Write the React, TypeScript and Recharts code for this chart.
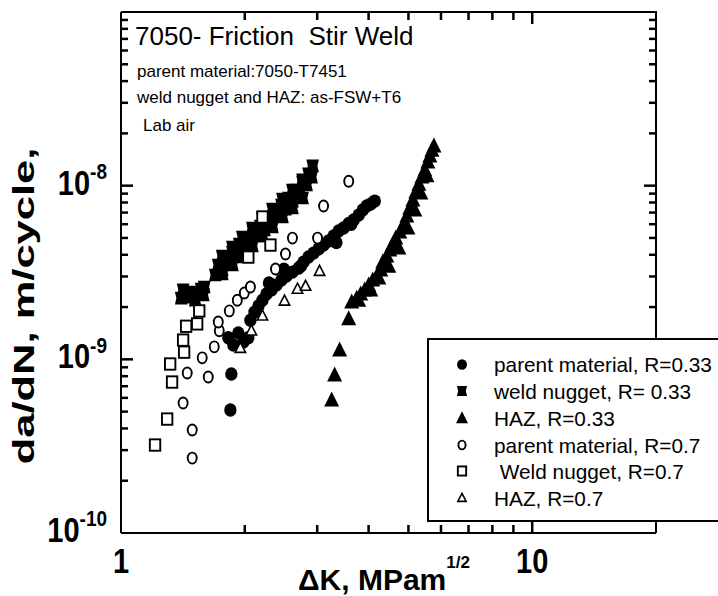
import React from "react";
import { Scatter, ScatterChart, XAxis, YAxis } from "recharts";

const FONT = '"Liberation Sans", Arial, Helvetica, sans-serif';
const INK = "#000";

// plot frame in page pixels (chart is pinned at 0,0)
const PLOT = { left: 121, right: 656, top: 12, bottom: 533 };

// axes
const X_DOMAIN = [1, 20];
const X_TICKS = [1, 2, 3, 4, 5, 6, 7, 8, 9, 10, 20];
const X_LABELS: Record<number, string> = { 1: "1", 10: "10" };
const Y_DOMAIN = [1e-10, 1e-7];
const Y_DECADES = [1e-10, 1e-9, 1e-8, 1e-7];
const Y_MINOR = [2, 3, 4, 5, 6, 7, 8, 9];
const Y_TICKS = Y_DECADES.flatMap((d, i) =>
  i < Y_DECADES.length - 1 ? [d, ...Y_MINOR.map((m) => m * d)] : [d]
);

// ΔK (MPa√m) and da/dN (m/cycle)
const PARENT_033_K = [1.845, 1.855, 1.824, 1.876, 1.929, 1.984, 2.04, 2.064, 2.111, 2.159, 2.208, 2.258, 2.322, 2.388, 2.456, 2.526, 2.612, 2.702, 2.779, 2.858, 2.94, 3.023, 3.109, 3.198, 3.289, 3.383, 3.479, 3.579, 3.68, 3.785, 3.871, 3.959, 4.049, 4.141, 2.29, 2.49, 2.74, 3.06, 3.34, 3.63];
const PARENT_033_DADN = [5.11e-10, 8.23e-10, 1.33e-9, 1.21e-9, 1.42e-9, 1.26e-9, 1.33e-9, 1.68e-9, 1.87e-9, 2.03e-9, 2.19e-9, 2.38e-9, 2.51e-9, 2.68e-9, 2.86e-9, 3.02e-9, 3.18e-9, 3.35e-9, 3.63e-9, 3.88e-9, 4.09e-9, 4.32e-9, 4.55e-9, 4.8e-9, 5.13e-9, 5.48e-9, 5.7e-9, 6.05e-9, 6.34e-9, 6.77e-9, 7.24e-9, 7.63e-9, 7.84e-9, 8.15e-9, 2.75e-9, 3.3e-9, 3.45e-9, 4.5e-9, 4.7e-9, 6.0e-9];

const WELD_033_K = [1.401, 1.433, 1.465, 1.498, 1.532, 1.567, 1.594, 1.416, 1.515, 1.585, 1.696, 1.724, 1.763, 1.793, 1.834, 1.866, 1.908, 1.94, 1.984, 2.018, 2.064, 2.099, 2.147, 2.183, 2.233, 2.27, 2.322, 2.361, 2.415, 2.456, 2.512, 2.555, 2.612, 2.657, 2.718, 2.764, 2.827, 2.858, 2.907, 2.924, 1.763, 1.866, 1.973, 2.087, 2.208, 2.335, 2.47, 2.612, 2.764, 1.763, 1.866, 1.973, 2.087, 2.208, 2.335, 2.47, 2.612, 2.764];
const WELD_033_DADN = [2.25e-9, 2.38e-9, 2.28e-9, 2.44e-9, 2.41e-9, 2.54e-9, 2.61e-9, 2.51e-9, 2.19e-9, 2.35e-9, 3.06e-9, 3.49e-9, 3.27e-9, 3.73e-9, 3.58e-9, 4.15e-9, 3.88e-9, 4.61e-9, 4.33e-9, 4.99e-9, 4.67e-9, 5.41e-9, 5.13e-9, 5.85e-9, 5.55e-9, 6.34e-9, 6.01e-9, 7.05e-9, 6.68e-9, 7.73e-9, 7.33e-9, 8.49e-9, 8.15e-9, 9.43e-9, 8.94e-9, 1.05e-8, 1.01e-8, 1.17e-8, 1.12e-8, 1.3e-8, 3.93e-9, 4.43e-9, 5.06e-9, 5.7e-9, 6.51e-9, 7.33e-9, 8.37e-9, 9.43e-9, 1.08e-8, 3.1e-9, 3.49e-9, 3.99e-9, 4.49e-9, 5.13e-9, 5.78e-9, 6.6e-9, 7.43e-9, 8.49e-9];

const HAZ_033_K = [3.253, 3.308, 3.402, 3.579, 3.639, 3.742, 3.827, 3.914, 4.003, 4.094, 4.188, 4.282, 4.331, 4.43, 4.505, 4.581, 4.659, 4.764, 4.873, 4.956, 5.04, 5.126, 5.213, 5.302, 5.391, 5.483, 5.576, 5.639, 5.703, 5.768, 3.785, 4.049, 4.236, 4.48, 4.738, 4.984, 5.183, 5.361, 5.546];
const HAZ_033_DADN = [5.83e-10, 8.12e-10, 1.13e-9, 1.71e-9, 2.14e-9, 2.25e-9, 2.38e-9, 2.51e-9, 2.68e-9, 2.86e-9, 3.02e-9, 3.27e-9, 3.63e-9, 3.93e-9, 4.26e-9, 4.61e-9, 4.99e-9, 5.41e-9, 6.01e-9, 6.68e-9, 7.43e-9, 8.26e-9, 9.19e-9, 1.02e-8, 1.12e-8, 1.23e-8, 1.37e-8, 1.48e-8, 1.6e-8, 1.69e-8, 2.19e-9, 2.51e-9, 2.94e-9, 3.44e-9, 4.37e-9, 5.7e-9, 7.24e-9, 9.07e-9, 1.14e-8];

const PARENT_07_K = [1.49, 1.49, 1.416, 1.63, 1.449, 1.576, 1.686, 1.734, 1.724, 1.834, 1.918, 1.995, 2.064, 2.375, 2.512, 2.612, 3.006, 3.109, 3.579];
const PARENT_07_DADN = [2.7e-10, 3.92e-10, 5.6e-10, 7.91e-10, 8.34e-10, 1.02e-9, 1.18e-9, 1.46e-9, 1.64e-9, 1.9e-9, 2.19e-9, 2.41e-9, 2.61e-9, 3.31e-9, 4.04e-9, 4.99e-9, 4.99e-9, 7.63e-9, 1.06e-8];

const WELD_07_K = [1.21, 1.295, 1.331, 1.317, 1.424, 1.416, 1.44, 1.532, 1.55, 2.04, 2.208, 2.309];
const WELD_07_DADN = [3.21e-10, 4.53e-10, 7.4e-10, 9.4e-10, 1.1e-9, 1.29e-9, 1.55e-9, 1.6e-9, 1.9e-9, 3.88e-9, 6.6e-9, 4.55e-9];

const HAZ_07_K = [1.951, 2.075, 2.208, 2.498, 2.687, 2.811, 3.04];
const HAZ_07_DADN = [1.16e-9, 1.46e-9, 1.78e-9, 2.17e-9, 2.54e-9, 2.64e-9, 3.22e-9];

type Kind = "filledCircle" | "filledSquare" | "filledTriangle" | "openCircle" | "openSquare" | "openTriangle";

const toPoints = (k: number[], dadn: number[]) => k.map((v, i) => ({ k: v, dadn: dadn[i] }));

const SERIES: { name: string; kind: Kind; data: { k: number; dadn: number }[] }[] = [
  { name: "parent material, R=0.33", kind: "filledCircle", data: toPoints(PARENT_033_K, PARENT_033_DADN) },
  { name: "weld nugget, R= 0.33", kind: "filledSquare", data: toPoints(WELD_033_K, WELD_033_DADN) },
  { name: "HAZ, R=0.33", kind: "filledTriangle", data: toPoints(HAZ_033_K, HAZ_033_DADN) },
  { name: "parent material, R=0.7", kind: "openCircle", data: toPoints(PARENT_07_K, PARENT_07_DADN) },
  { name: "\u00a0Weld nugget, R=0.7", kind: "openSquare", data: toPoints(WELD_07_K, WELD_07_DADN) },
  { name: "HAZ, R=0.7", kind: "openTriangle", data: toPoints(HAZ_07_K, HAZ_07_DADN) },
];

// inward tick marks on all four sides, placed through the axis scales
const isDecade = (v: number) => Math.abs(Math.log10(v) - Math.round(Math.log10(v))) < 1e-6;
const INNER_X = X_TICKS.filter((v) => v > X_DOMAIN[0] && v < X_DOMAIN[1]);
const INNER_Y = Y_TICKS.filter((v) => v > Y_DOMAIN[0] * 1.001 && v < Y_DOMAIN[1] * 0.999);
type Side = "bottom" | "top" | "left" | "right";
const xTickGroup = (side: Side, major: boolean) => ({
  side,
  len: major ? 12 : 8,
  data: INNER_X.filter((v) => isDecade(v) === major).map((v) => ({
    k: v,
    dadn: side === "bottom" ? Y_DOMAIN[0] : Y_DOMAIN[1],
  })),
});
const yTickGroup = (side: Side, major: boolean) => ({
  side,
  len: major ? 12 : 7,
  data: INNER_Y.filter((v) => isDecade(v) === major).map((v) => ({
    k: side === "left" ? X_DOMAIN[0] : X_DOMAIN[1],
    dadn: v,
  })),
});
const TICK_GROUPS = [
  xTickGroup("bottom", false), xTickGroup("bottom", true),
  xTickGroup("top", false), xTickGroup("top", true),
  yTickGroup("left", false), yTickGroup("left", true),
  yTickGroup("right", false), yTickGroup("right", true),
];

function TickMark({ side, len, cx, cy }: { side: Side; len: number; cx?: number; cy?: number }) {
  if (cx == null || cy == null) return <g />;
  const d =
    side === "bottom" ? `M${cx},${cy}v${-len}` :
    side === "top" ? `M${cx},${cy}v${len}` :
    side === "left" ? `M${cx},${cy}h${len}` : `M${cx},${cy}h${-len}`;
  return <path d={d} stroke={INK} strokeWidth={2.5} fill="none" />;
}

function Marker({ kind, cx, cy, s = 1 }: { kind: Kind; cx: number; cy: number; s?: number }) {
  switch (kind) {
    case "filledCircle":
      return <ellipse cx={cx} cy={cy} rx={6.2 * s} ry={6.7 * s} fill={INK} />;
    case "filledSquare": {
      const a = 6.3 * s;
      const n = 4.8 * s;
      const pts = [
        [cx - a, cy - a], [cx + a, cy - a], [cx + n, cy], [cx + a, cy + a], [cx - a, cy + a], [cx - n, cy],
      ];
      return <polygon points={pts.map((p) => p.join(",")).join(" ")} fill={INK} />;
    }
    case "filledTriangle":
      return (
        <polygon
          points={`${cx},${cy - 8.5 * s} ${cx + 7.5 * s},${cy + 6.5 * s} ${cx - 7.5 * s},${cy + 6.5 * s}`}
          fill={INK}
        />
      );
    case "openCircle":
      return <ellipse cx={cx} cy={cy} rx={4.5 * s} ry={5.5 * s} fill="#fff" stroke={INK} strokeWidth={1.9} />;
    case "openSquare":
      return (
        <rect x={cx - 5.2 * s} y={cy - 5.7 * s} width={10.4 * s} height={11.4 * s} fill="#fff" stroke={INK} strokeWidth={1.9} />
      );
    case "openTriangle":
      return (
        <polygon
          points={`${cx},${cy - 5.8 * s} ${cx + 5.2 * s},${cy + 4.2 * s} ${cx - 5.2 * s},${cy + 4.2 * s}`}
          fill="#fff"
          stroke={INK}
          strokeWidth={1.6}
        />
      );
  }
}

function XTick(props: any) {
  const { x, payload } = props;
  const v = Number(payload.value);
  const label = X_LABELS[v];
  return (
    <g>
      {v === X_TICKS[0] && (
        <path
          d={`M${PLOT.left},${PLOT.top}H${PLOT.right}V${PLOT.bottom}`}
          fill="none"
          stroke={INK}
          strokeWidth={2}
        />
      )}
      {label && (
        <g transform={`translate(${x},${PLOT.bottom + 40}) scale(1,1.2)`}>
          <text x={0} y={0} textAnchor="middle" fontFamily={FONT} fontWeight="bold" fontSize={29} fill={INK}>
            {label}
          </text>
        </g>
      )}
    </g>
  );
}

function YTick(props: any) {
  const { y, payload } = props;
  const v = Number(payload.value);
  const exp = Math.round(Math.log10(v));
  if (!isDecade(v) || v >= Y_DOMAIN[1] * 0.999) return <g />;
  return (
    <g transform={`translate(${PLOT.left - 14},${y + 9}) scale(1,1.2)`}>
      <text x={0} y={0} textAnchor="end" fontFamily={FONT} fontWeight="bold" fontSize={29} fill={INK}>
        10
        <tspan dy={-13} fontSize={19}>
          {String(exp)}
        </tspan>
      </text>
    </g>
  );
}

function Annotations() {
  return (
    <svg
      width={718}
      height={596}
      style={{ position: "absolute", left: 0, top: 0, pointerEvents: "none" }}
      fontFamily={FONT}
    >
      <text x={135} y={45} fontSize={26} fill={INK} style={{ whiteSpace: "pre" }}>
        7050- Friction  Stir Weld
      </text>
      <text x={137} y={77} fontSize={17} fill={INK}>parent material:7050-T7451</text>
      <text x={137} y={103} fontSize={17} fill={INK}>weld nugget and HAZ: as-FSW+T6</text>
      <text x={143} y={131} fontSize={17} fill={INK}>Lab air</text>

      <text x={298} y={590} fontSize={30} fontWeight="bold" fill={INK}>
        ΔK, MPam
        <tspan dy={-22} fontSize={17}>1/2</tspan>
      </text>

      <g transform="translate(34,306) rotate(-90) scale(1.45,1)">
        <text x={0} y={0} textAnchor="middle" fontSize={30} fontWeight="bold" fill={INK}>
          da/dN, m/cycle,
        </text>
      </g>
    </svg>
  );
}

function LegendBox() {
  const rowY = [24.5, 51, 78, 105, 131, 158];
  return (
    <div
      style={{
        position: "absolute",
        left: 427,
        top: 338,
        width: 300,
        height: 180,
        border: "2px solid #000",
        background: "#fff",
      }}
    >
      <svg width={300} height={180} fontFamily={FONT}>
        {SERIES.map((s, i) => (
          <g key={s.name}>
            <Marker kind={s.kind} cx={33} cy={rowY[i]} s={0.8} />
            <text x={65} y={rowY[i] + 7.5} fontSize={20.8} fill={INK} style={{ whiteSpace: "pre" }}>
              {s.name}
            </text>
          </g>
        ))}
      </svg>
    </div>
  );
}

export default function App() {
  return (
    <div
      style={{
        position: "absolute",
        left: 0,
        top: 0,
        width: 718,
        height: 596,
        overflow: "hidden",
        background: "#fff",
      }}
    >
      <Annotations />
      <ScatterChart width={718} height={596} margin={{ top: 12, right: 62, bottom: 3, left: 61 }}>
        <XAxis
          type="number"
          dataKey="k"
          scale="log"
          domain={X_DOMAIN}
          ticks={X_TICKS}
          interval={0}
          allowDataOverflow
          axisLine={{ stroke: INK, strokeWidth: 2 }}
          tickLine={false}
          height={60}
          tick={(p: any) => <XTick {...p} />}
        />
        <YAxis
          type="number"
          dataKey="dadn"
          scale="log"
          domain={Y_DOMAIN}
          ticks={Y_TICKS}
          interval={0}
          allowDataOverflow
          axisLine={{ stroke: INK, strokeWidth: 2 }}
          tickLine={false}
          width={60}
          tick={(p: any) => <YTick {...p} />}
        />
        {TICK_GROUPS.map((t, i) => (
          <Scatter
            key={`tick-${i}`}
            data={t.data}
            isAnimationActive={false}
            shape={(p: any) => <TickMark side={t.side} len={t.len} cx={p.cx} cy={p.cy} />}
          />
        ))}
        {SERIES.map((s) => (
          <Scatter
            key={s.name}
            name={s.name}
            data={s.data}
            isAnimationActive={false}
            shape={(p: any) => <Marker kind={s.kind} cx={p.cx} cy={p.cy} />}
          />
        ))}
      </ScatterChart>
      <LegendBox />
    </div>
  );
}
